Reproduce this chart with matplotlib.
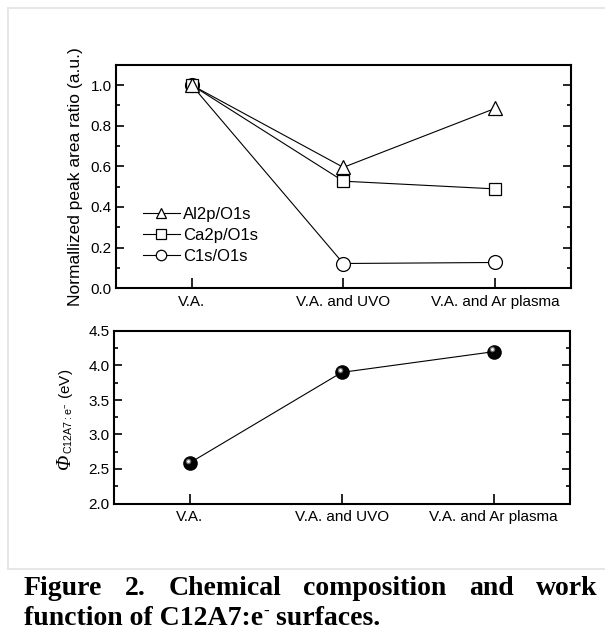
import numpy as np
import matplotlib.pyplot as plt
import matplotlib.transforms as mtransforms
from matplotlib.ticker import MultipleLocator
from matplotlib.lines import Line2D

plt.rcParams['font.family'] = ['Liberation Sans', 'DejaVu Sans']
plt.rcParams['mathtext.fontset'] = 'custom'
plt.rcParams['mathtext.rm'] = 'Liberation Sans'
FS = 11  # fontsize for plots

categories = ["V.A.", "V.A. and UVO", "V.A. and Ar plasma"]
al2p_o1s = [1.00, 0.595, 0.885]
ca2p_o1s = [1.00, 0.527, 0.489]
c1s_o1s = [1.00, 0.122, 0.127]
series_labels = ["Al2p/O1s", "Ca2p/O1s", "C1s/O1s"]
series_markers = ["^", "s", "o"]
series_ms = [10, 9, 10]
work_function = [2.59, 3.90, 4.20]

x = np.arange(len(categories))

fig = plt.figure(figsize=(6.05, 6.32), dpi=100)
W, H = 605, 632

def px_axes(l, t, r, b):
    return fig.add_axes([l / W, 1 - b / H, (r - l) / W, (b - t) / H])

def style_axes(ax, minor):
    for s in ax.spines.values():
        s.set_linewidth(1.5)
    ax.set_xticks(x)
    ax.set_xticklabels(categories, fontsize=FS)
    ax.set_xlim(-0.5, 2.5)
    ax.yaxis.set_minor_locator(MultipleLocator(minor))
    ax.tick_params(axis='y', which='both', direction='in', left=True, right=True, labelsize=FS, pad=3)
    ax.tick_params(axis='y', which='major', length=6, width=1.2)
    ax.tick_params(axis='y', which='minor', length=3, width=1.2)
    ax.tick_params(axis='x', which='major', direction='in', length=7, width=1.2, pad=5, top=False)

# top panel
ax1 = px_axes(115.7, 64.7, 571, 288.3)
all_series = [al2p_o1s, ca2p_o1s, c1s_o1s]
for ys in all_series:
    ax1.plot(x, ys, '-', color='black', lw=0.8, zorder=2)
for kk in [2, 1, 0]:
    ax1.plot(x, all_series[kk], series_markers[kk], ms=series_ms[kk], mfc='white', mec='black', mew=0.9, zorder=3)
handles = [Line2D([], [], color='black', lw=0.8, marker=series_markers[k], ms=series_ms[k] * 0.75,
                  mfc='white', mec='black', mew=0.9) for k in range(3)]
ax1.set_ylim(0, 1.1)
ax1.yaxis.set_major_locator(MultipleLocator(0.2))
style_axes(ax1, 0.1)
ax1.set_ylabel("Normallized peak area ratio (a.u.)", fontsize=12.5, labelpad=5)
ax1.legend(handles, series_labels, loc='lower left', bbox_to_anchor=(0.045, 0.08), frameon=False,
           fontsize=12, handlelength=2.2, handletextpad=0.2, labelspacing=0.35, borderaxespad=0)

# bottom panel
ax2 = px_axes(114, 331, 569.5, 503.5)
ax2.plot(x, work_function, '-', color='black', lw=0.8, zorder=2)
ax2.plot(x, work_function, 'o', ms=9.5, mfc='black', mec='black', zorder=3)
shine = mtransforms.offset_copy(ax2.transData, fig=fig, x=-1.2, y=1.6, units='points')
ax2.plot(x, work_function, 'o', ms=4, mfc='#6e6e6e', mec='none', zorder=4, transform=shine)
ax2.plot(x, work_function, 'o', ms=2, mfc='white', mec='none', zorder=5, transform=shine)
ax2.set_ylim(2.0, 4.5)
ax2.yaxis.set_major_locator(MultipleLocator(0.5))
style_axes(ax2, 0.25)

# light frame around the figure panel
fig.add_artist(Line2D([8 / W, 8 / W], [1 - 8 / H, 1 - 569 / H], color='#e3e3e3', lw=1.2))
fig.add_artist(Line2D([8 / W, 1], [1 - 8 / H, 1 - 8 / H], color='#e3e3e3', lw=1.2))
fig.add_artist(Line2D([8 / W, 1], [1 - 569 / H, 1 - 569 / H], color='#e3e3e3', lw=1.2))

# bottom y label: italic serif Phi followed by sans subscript and unit
lab_x, lab_y0 = 70, 469
phi = fig.text(lab_x / W, 1 - lab_y0 / H, "\u03a6", rotation=90, rotation_mode='anchor', ha='left',
               va='baseline', family='Liberation Serif', style='italic', fontsize=14.5)
fig.canvas.draw()
r = fig.canvas.get_renderer()
y_next = phi.get_window_extent(r).y1
fig.text(lab_x / W, y_next / H, r"${}_{\mathrm{C12A7{:}e^{-}}}$ (eV)", rotation=90, rotation_mode='anchor',
         ha='left', va='baseline', fontsize=11)

# caption: first line justified, second line ragged
cap_font = dict(family='Liberation Serif', weight='bold', fontsize=20)
words = ["Figure", "2.", "Chemical", "composition", "and", "work"]
x_left, x_right, base1, base2 = 24, 598, 595, 625
texts = [fig.text(0, 1 - base1 / H, w, va='baseline', **cap_font) for w in words]
line2 = fig.text(x_left / W, 1 - base2 / H, "function of C12A7:e", va='baseline', **cap_font)
fig.canvas.draw()
widths = [t.get_window_extent(r).width for t in texts]
gap = (x_right - x_left - sum(widths)) / (len(words) - 1)
pos = x_left
for t, w in zip(texts, widths):
    t.set_x(pos / W)
    pos += w + gap
end2 = line2.get_window_extent(r).x1
sup = fig.text(end2 / W, 1 - (base2 - 9) / H, "-", va='baseline', family='Liberation Serif',
               weight='bold', fontsize=12)
fig.canvas.draw()
end_sup = sup.get_window_extent(r).x1
fig.text(end_sup / W, 1 - base2 / H, " surfaces.", va='baseline', **cap_font)

fig.savefig("out.png", dpi=100)
